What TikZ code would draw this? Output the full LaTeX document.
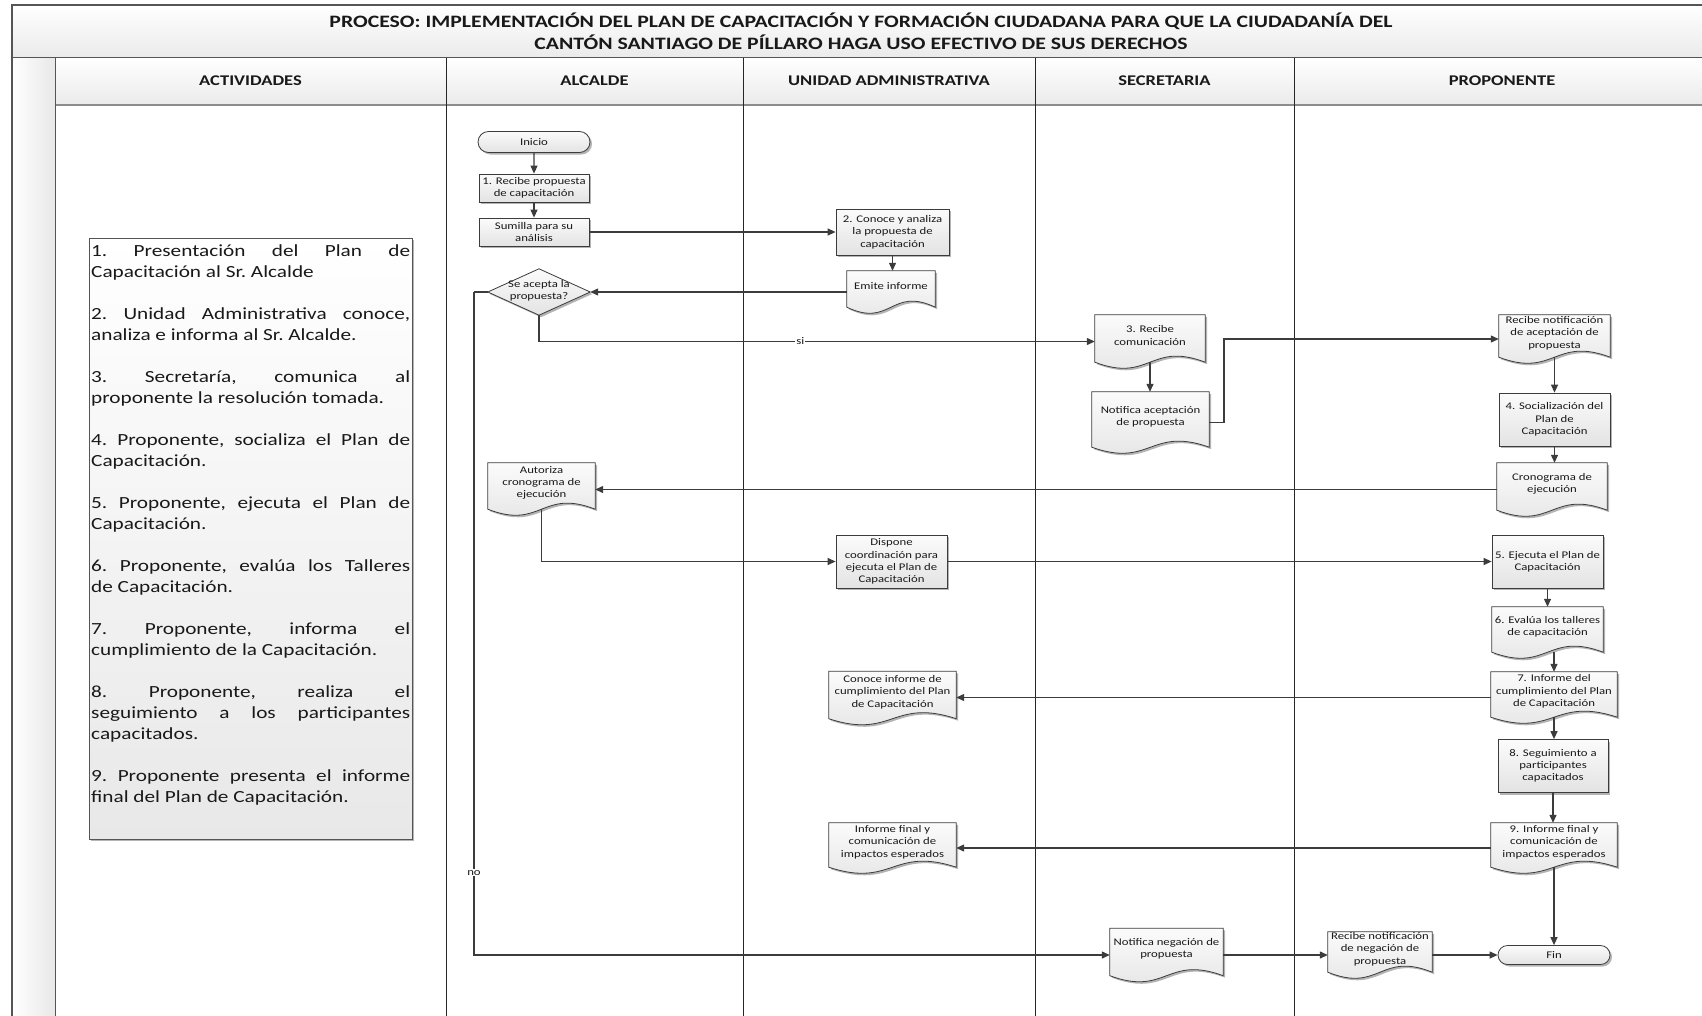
\documentclass[tikz,border=0pt]{standalone}
\usepackage{fontspec}
\setmainfont{Carlito}[FakeStretch=1.25]
\usetikzlibrary{arrows.meta,shapes.misc,calc,shadows}
\definecolor{lineC}{HTML}{3C3C3C}
\definecolor{frameC}{HTML}{555555}
\definecolor{fillTop}{HTML}{FBFBFB}
\definecolor{fillBot}{HTML}{E3E3E3}
\definecolor{shadowC}{HTML}{B4B4B4}
\pgfdeclarelayer{bg}
\pgfdeclarelayer{shp}
\pgfsetlayers{bg,shp,main}
\newcommand\docpath[1]{(#1.north west) -- (#1.north east) -- ($(#1.south east)+(0,-6)$) .. controls ($(#1.south)+(0,-27)$) and ($(#1.south)+(0,15)$) .. ($(#1.south west)+(0,-6)$) -- cycle}
\newcommand\docn[6]{%
  \node[docbox, minimum width=#4, minimum height=#5] (#1) at (#2,#3) {};
  \coordinate (#1-b) at ($(#1.south)+(0,-6)$);
  \node[txt] (#1-t) at ($(#1.center)+(0,-6)$) {#6};}
\tikzset{
  txt/.style={font=\fontsize{10.2}{12.3}\selectfont, align=center, text=black!90, inner sep=0pt},
  shapefill/.style={draw=lineC, line width=0.8pt, top color=fillTop, bottom color=fillBot},
  proc/.style={txt, rectangle, shapefill, drop shadow={shadow xshift=2pt,shadow yshift=-2pt,fill=shadowC,opacity=1}},
  term/.style={proc, rounded rectangle},
  docbox/.style={rectangle, draw=none, inner sep=0pt},
  conn/.style={draw=lineC, line width=1.2pt, -{Triangle[length=8pt,width=7pt]}},
  plain/.style={draw=lineC, line width=1.2pt},
  lbl/.style={font=\fontsize{10.2}{12}\selectfont, fill=white, inner sep=1pt, text=black!90},
  hdr/.style={font=\fontsize{14.8}{17}\selectfont\bfseries, text=black!90},
}
\begin{document}
\begin{tikzpicture}[x=1pt,y=-1pt]
\useasboundingbox (0,0) rectangle (1702,1015);
\clip (0,0) rectangle (1702,1015);

\begin{pgfonlayer}{bg}
  \fill[white] (0,0) rectangle (1702,1015);
  \path[top color=white, bottom color=black!8] (12,5) rectangle (1730,57.5);
  \path[top color=white, bottom color=black!8] (55,57.5) rectangle (1730,105);
  \path[left color=white, right color=black!9] (12,57.5) rectangle (55,1030);
  \draw[frameC, line width=1.3pt] (12,1030) -- (12,5) -- (1730,5);
  \draw[frameC, line width=1.3pt] (12,57.5) -- (1730,57.5);
  \draw[black!45, line width=1.2pt] (55,105) -- (1730,105);
  \draw[frameC, line width=1pt] (55,57.5) -- (55,1030);
  \foreach \x in {446,743,1035,1294} \draw[black!85, line width=1pt] (\x,57.5) -- (\x,1030);
\end{pgfonlayer}

% title and headers
\node[font=\fontsize{17.4}{21.7}\selectfont\bfseries, align=center, text=black!90] (title) at (861,31.5)
  {PROCESO: IMPLEMENTACIÓN DEL PLAN DE CAPACITACIÓN Y FORMACIÓN CIUDADANA PARA QUE LA CIUDADANÍA DEL\\CANTÓN SANTIAGO DE PÍLLARO HAGA USO EFECTIVO DE SUS DERECHOS};
\node[hdr] (hact) at (250.5,81) {ACTIVIDADES};
\node[hdr] (halc) at (594.5,81) {ALCALDE};
\node[hdr] (huni) at (889,81) {UNIDAD ADMINISTRATIVA};
\node[hdr] (hsec) at (1164.5,81) {SECRETARIA};
\node[hdr] (hpro) at (1502,81) {PROPONENTE};

% activities box
\node[draw=frameC, line width=0.8pt, top color=white, bottom color=black!9,
      drop shadow={shadow xshift=2pt,shadow yshift=-2pt,fill=shadowC,opacity=1},
      minimum width=323, minimum height=601, anchor=north west, inner sep=0pt] (act) at (89,238) {};
\node[anchor=north west, text width=319, align=justify, inner sep=0pt, text=black!90,
      font={\fontsize{17}{21}\selectfont\frenchspacing\parindent=0pt\parskip=21pt}] (acttxt) at (91,244) {%
1. Presentación del Plan de\linebreak Capacitación al Sr. Alcalde\par
2. Unidad Administrativa conoce,\linebreak analiza e informa al Sr. Alcalde.\par
3. Secretaría, comunica al\linebreak proponente la resolución tomada.\par
4. Proponente, socializa el Plan de\linebreak Capacitación.\par
5. Proponente, ejecuta el Plan de\linebreak Capacitación.\par
6. Proponente, evalúa los Talleres\linebreak de Capacitación.\par
7. Proponente, informa el\linebreak cumplimiento de la Capacitación.\par
8. Proponente, realiza el\linebreak seguimiento a los participantes\linebreak capacitados.\par
9. Proponente presenta el informe\linebreak final del Plan de Capacitación.\par};

% ALCALDE
\node[term, minimum width=112, minimum height=21] (inicio) at (534,142) {Inicio};
\node[proc, minimum width=110, minimum height=28] (b1) at (534,188) {1. Recibe propuesta\\de capacitación};
\node[proc, minimum width=110, minimum height=28] (sum) at (534,232) {Sumilla para su\\análisis};
\node[docbox, minimum width=102, minimum height=46] (dia) at (539,292) {};
\node[txt] (dia-t) at (539,291) {Se acepta la\\propuesta?};
\docn{aut}{541.5}{489}{107}{52}{Autoriza\\cronograma de\\ejecución}

% UNIDAD ADMINISTRATIVA
\node[proc, minimum width=113, minimum height=46] (b2) at (892.5,232) {2. Conoce y analiza\\la propuesta de\\capacitación};
\docn{emite}{891}{292}{88}{42}{Emite informe}
\node[proc, minimum width=111, minimum height=53] (disp) at (891.5,561.5) {Dispone\\coordinación para\\ejecuta el Plan de\\Capacitación};
\docn{conoce}{892.5}{698}{127}{53}{Conoce informe de\\cumplimiento del Plan\\de Capacitación}
\docn{final}{892.5}{848}{127}{50}{Informe final y\\comunicación de\\impactos esperados}

% SECRETARIA
\docn{n3}{1150}{341.5}{110}{53}{3. Recibe\\comunicación}
\docn{notacep}{1150.5}{422.5}{117}{61}{Notifica aceptación\\de propuesta}
\docn{notneg}{1166.5}{955}{113}{53}{Notifica negación de\\propuesta}

% PROPONENTE
\docn{recacep}{1554.5}{339}{111}{48}{Recibe notificación\\de aceptación de\\propuesta}
\node[proc, minimum width=111, minimum height=53] (b4) at (1554.5,419.5) {4. Socialización del\\Plan de\\Capacitación};
\docn{crono}{1552}{489.5}{110}{53}{Cronograma de\\ejecución}
\node[proc, minimum width=111, minimum height=53] (b5) at (1547.5,561.5) {5. Ejecuta el Plan de\\Capacitación};
\docn{d6}{1547.5}{632.5}{111}{51}{6. Evalúa los talleres\\de capacitación}
\docn{d7}{1554}{697.5}{126}{51}{7. Informe del\\cumplimiento del Plan\\de Capacitación}
\node[proc, minimum width=110, minimum height=53] (b8) at (1553,766) {8. Seguimiento a\\participantes\\capacitados};
\docn{d9}{1554}{848}{126}{50}{9. Informe final y\\comunicación de\\impactos esperados}
\docn{recneg}{1380}{955}{104}{46}{Recibe notificación\\de negación de\\propuesta}
\node[term, minimum width=112, minimum height=19] (fin) at (1554,955) {Fin};

% document and decision shapes
\begin{pgfonlayer}{shp}
  \begin{scope}[transform canvas={xshift=2pt,yshift=-2pt}]
    \foreach \d in {aut,emite,conoce,final,n3,notacep,notneg,recacep,crono,d6,d7,d9,recneg}
      \fill[shadowC] \docpath{\d};
    \fill[shadowC] (dia.north) -- (dia.east) -- (dia.south) -- (dia.west) -- cycle;
  \end{scope}
  \foreach \d in {aut,emite,conoce,final,n3,notacep,notneg,recacep,crono,d6,d7,d9,recneg}
    \path[shapefill] \docpath{\d};
  \path[shapefill] (dia.north) -- (dia.east) -- (dia.south) -- (dia.west) -- cycle;
\end{pgfonlayer}

% connectors
\coordinate (nobend) at (474,292);
\coordinate (jog) at (1224,422.5);
\draw[conn] (inicio) -- (b1);
\draw[conn] (b1) -- (sum);
\draw[conn] (sum) -- (b2);
\draw[conn] (b2.south) -- (b2.south |- emite.north);
\draw[conn] (emite.west |- dia.east) -- (dia.east);
\draw[conn] (dia.south) |- (n3.west) node[lbl, pos=0.735] (si) {si};
\draw[plain] (dia.west) -- (nobend);
\draw[conn] (nobend) |- (notneg.west) node[lbl, pos=0.438] (no) {no};
\draw[conn] (n3-b) -- (n3-b |- notacep.north);
\draw[conn] (notacep.east) -- (jog) |- (recacep.west);
\draw[conn] (recacep-b) -- (recacep-b |- b4.north);
\draw[conn] (b4.south) -- (b4.south |- crono.north);
\draw[conn] (crono.west) -- (crono.west -| aut.east);
\draw[conn] (aut-b) |- (disp.west);
\draw[conn] (disp.east) -- (b5.west);
\draw[conn] (b5.south) -- (b5.south |- d6.north);
\draw[conn] (d7.north |- d6-b) -- (d7.north);
\draw[conn] (d7-b) -- (d7-b |- b8.north);
\draw[conn] (d7.west) -- (d7.west -| conoce.east);
\draw[conn] (b8.south) -- (b8.south |- d9.north);
\draw[conn] (d9.west) -- (d9.west -| final.east);
\draw[conn] (d9-b) -- (fin.north);
\draw[conn] (notneg.east) -- (notneg.east -| recneg.west);
\draw[conn] (recneg.east) -- (recneg.east -| fin.west);
\end{tikzpicture}
\end{document}
